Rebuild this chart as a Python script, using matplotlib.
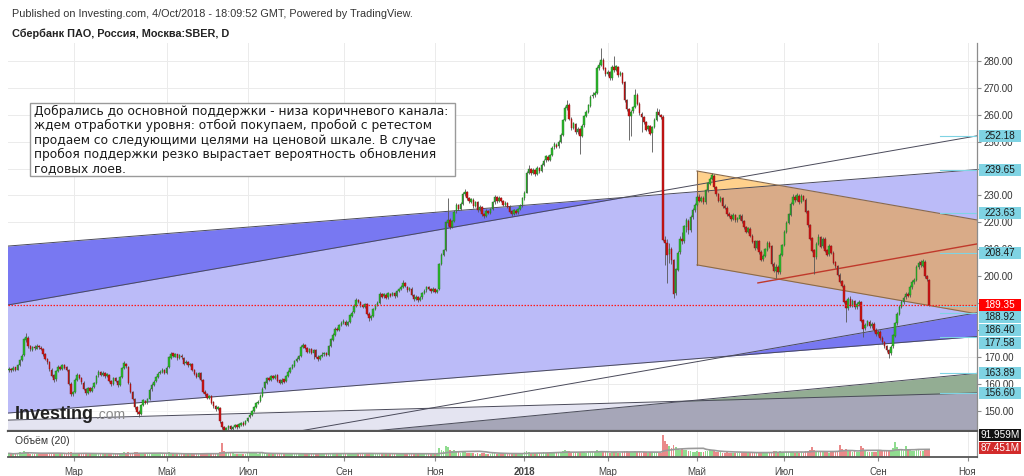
import numpy as np
import pandas as pd
import matplotlib
matplotlib.use("Agg")
import matplotlib.pyplot as plt
import matplotlib.transforms as mtransforms
from matplotlib.patches import Rectangle

# ---------------- daily candles, SBER (MOEX), bar index 0 = mid-January 2017 ----------------
opens = [
    165.0, 165.6, 165.1, 166.1, 165.3, 166.9, 169.0, 170.6, 176.3, 177.2,
    174.1, 172.7, 173.7, 173.1, 174.2, 173.4, 173.0, 171.1, 169.1, 168.1,
    165.3, 163.1, 161.6, 164.9, 166.3, 165.4, 166.9, 166.1, 165.1, 160.1,
    156.3, 156.9, 161.4, 163.3, 162.1, 160.4, 158.1, 156.6, 158.3, 157.3,
    158.7, 160.4, 163.1, 164.4, 163.3, 163.9, 162.9, 163.4, 161.1, 159.9,
    162.1, 161.1, 159.6, 162.6, 165.9, 167.5, 166.4, 160.1, 157.1, 154.4,
    151.2, 149.6, 148.9, 152.1, 153.7, 153.1, 154.3, 157.9, 159.5, 160.9,
    162.4, 163.9, 164.4, 165.3, 164.1, 166.1, 169.7, 171.3, 170.1, 170.9,
    169.6, 170.5, 169.7, 167.6, 168.1, 166.9, 167.3, 165.1, 163.7, 162.6,
    163.9, 161.4, 157.1, 156.1, 154.9, 155.4, 153.1, 151.7, 150.6, 151.1,
    145.9, 143.9, 142.9, 143.4, 144.3, 143.1, 144.1, 144.5, 143.9, 144.8,
    145.6, 144.9, 146.1, 147.5, 148.4, 149.9, 151.4, 152.9, 153.5, 155.5,
    158.3, 160.4, 162.1, 161.3, 162.9, 162.1, 163.1, 161.3, 160.3, 161.6,
    160.9, 162.9, 164.4, 165.9, 166.7, 168.6, 169.3, 170.4, 173.7, 174.5,
    173.3, 171.9, 172.9, 171.5, 172.4, 170.1, 169.3, 170.3, 170.9, 171.4,
    170.7, 174.1, 176.4, 178.3, 180.4, 180.1, 181.7, 182.7, 183.1, 182.0,
    182.9, 185.3, 186.6, 188.9, 191.1, 190.3, 189.3, 188.4, 189.5, 186.1,
    184.6, 185.3, 187.7, 189.4, 190.1, 193.4, 192.5, 193.1, 192.1, 193.5,
    192.9, 193.7, 192.6, 194.4, 195.3, 195.9, 197.3, 196.1, 194.9, 195.4,
    192.9, 191.6, 192.3, 191.1, 192.1, 193.7, 194.7, 195.9, 195.1, 194.5,
    195.2, 194.3, 195.1, 204.6, 207.9, 209.7, 219.8, 220.9, 218.3, 220.4,
    224.1, 226.4, 225.1, 226.9, 230.4, 231.3, 229.1, 227.7, 228.5, 226.1,
    227.4, 224.6, 225.7, 223.1, 222.5, 224.1, 223.6, 225.1, 227.4, 229.4,
    227.9, 229.1, 228.1, 226.6, 227.1, 225.9, 224.1, 223.1, 224.4, 223.7,
    225.1, 226.3, 228.9, 231.1, 238.4, 239.9, 238.5, 239.4, 238.1, 240.1,
    239.1, 241.4, 243.1, 244.4, 243.3, 244.9, 247.9, 248.9, 248.3, 249.9,
    252.6, 258.1, 262.4, 263.7, 258.6, 255.1, 256.7, 253.6, 254.7, 252.1,
    256.1, 259.4, 261.1, 263.4, 266.9, 267.4, 268.1, 277.4, 278.5, 280.4,
    277.3, 275.1, 275.9, 273.6, 277.7, 276.6, 277.9, 274.9, 275.5, 272.1,
    265.4, 262.1, 259.4, 261.3, 262.9, 267.4, 264.1, 260.4, 259.1, 257.3,
    254.6, 255.7, 253.1, 255.6, 258.1, 261.1, 259.9, 259.3, 213.6, 212.4,
    208.1, 210.1, 205.9, 193.6, 202.4, 208.9, 213.9, 213.1, 218.4, 220.7,
    217.1, 221.9, 224.5, 226.6, 229.4, 228.1, 229.1, 227.6, 231.9, 234.4,
    236.1, 237.4, 233.1, 230.4, 228.1, 229.1, 226.1, 225.4, 223.1, 222.4,
    221.3, 222.7, 220.9, 221.4, 222.5, 220.4, 218.3, 216.6, 217.7, 215.1,
    212.9, 210.6, 212.9, 209.1, 206.3, 207.6, 209.9, 212.4, 211.1, 204.6,
    202.1, 203.4, 201.6, 207.9, 211.6, 216.4, 219.9, 222.9, 226.9, 229.4,
    228.3, 229.9, 227.6, 229.7, 228.4, 224.1, 218.9, 214.1, 209.6, 207.1,
    212.1, 214.4, 211.1, 213.9, 209.6, 208.1, 211.1, 208.7, 205.1, 203.7,
    200.6, 198.1, 196.4, 190.6, 188.1, 191.4, 189.1, 190.7, 188.6, 189.5,
    190.4, 183.6, 180.6, 181.9, 183.1, 181.6, 182.3, 180.1, 178.6, 179.3,
    177.1, 175.4, 174.1, 172.4, 171.3, 173.9, 177.9, 182.6, 185.9, 188.6,
    190.4, 192.1, 193.4, 192.9, 195.9, 197.7, 198.6, 203.4, 205.1, 203.9,
    205.4, 200.1, 198.6,
]
highs = [
    166.2, 166.0, 166.6, 166.4, 167.2, 169.3, 171.0, 177.2, 178.9, 177.6,
    174.6, 174.0, 174.3, 174.9, 174.6, 173.9, 173.3, 171.5, 169.7, 168.4,
    165.8, 163.6, 165.2, 166.9, 166.7, 167.4, 167.3, 166.5, 165.4, 160.6,
    157.4, 162.0, 164.1, 163.7, 162.5, 160.9, 158.6, 158.9, 158.8, 159.2,
    160.8, 163.4, 165.3, 164.8, 164.6, 164.3, 163.9, 163.8, 161.5, 162.4,
    162.6, 161.5, 162.9, 166.3, 168.4, 167.9, 166.7, 160.6, 157.5, 154.8,
    151.7, 150.2, 152.6, 154.4, 154.1, 154.8, 158.3, 160.2, 161.3, 162.9,
    164.2, 165.0, 165.7, 165.6, 166.5, 170.3, 171.9, 171.6, 171.5, 171.2,
    171.0, 170.9, 170.0, 168.7, 168.5, 167.9, 167.7, 165.5, 164.2, 164.4,
    164.3, 161.8, 157.6, 156.5, 155.9, 155.8, 153.5, 152.1, 151.7, 151.5,
    146.3, 144.4, 143.9, 144.7, 144.6, 144.4, 145.0, 144.9, 145.4, 145.9,
    146.0, 146.6, 147.8, 149.0, 150.3, 151.9, 153.2, 154.0, 156.1, 158.7,
    160.9, 162.5, 162.6, 163.3, 163.4, 163.6, 163.5, 161.8, 162.0, 161.9,
    163.4, 165.0, 166.2, 167.3, 168.9, 169.9, 170.8, 174.3, 175.3, 174.9,
    173.7, 173.2, 173.4, 172.9, 172.8, 170.6, 170.8, 171.9, 171.9, 171.8,
    174.4, 177.0, 178.7, 181.0, 181.2, 182.2, 183.4, 184.0, 183.6, 183.3,
    185.9, 187.0, 189.5, 191.9, 191.6, 190.8, 189.8, 190.2, 189.9, 186.6,
    185.7, 188.2, 189.8, 190.6, 194.2, 193.9, 193.8, 193.6, 194.1, 193.9,
    194.3, 194.1, 195.0, 195.7, 196.6, 198.4, 197.8, 196.5, 196.0, 195.8,
    193.3, 192.9, 192.8, 192.5, 194.2, 195.1, 196.5, 196.3, 195.6, 195.8,
    195.6, 195.4, 205.0, 208.5, 210.2, 220.6, 229.0, 221.5, 221.0, 224.6,
    227.1, 227.0, 227.6, 231.3, 232.6, 231.8, 229.6, 229.2, 229.0, 228.1,
    227.9, 226.3, 226.2, 223.6, 224.8, 224.6, 225.5, 228.0, 230.2, 229.9,
    229.7, 229.6, 228.5, 227.8, 227.6, 226.3, 224.6, 225.0, 224.9, 225.5,
    226.7, 229.5, 231.5, 239.0, 241.5, 240.4, 240.1, 239.9, 240.8, 240.6,
    242.0, 243.6, 245.0, 245.0, 245.6, 248.4, 249.9, 249.5, 250.7, 253.1,
    258.6, 263.2, 265.5, 264.2, 259.0, 257.5, 257.1, 255.5, 255.2, 256.6,
    260.0, 261.6, 264.0, 267.3, 268.3, 268.8, 278.2, 279.5, 285.0, 281.0,
    277.8, 276.6, 276.4, 278.5, 282.0, 278.6, 278.3, 276.2, 276.0, 272.6,
    265.9, 262.6, 261.8, 263.4, 269.5, 268.0, 264.6, 261.0, 259.6, 257.8,
    256.3, 256.2, 256.0, 258.8, 262.5, 262.0, 260.4, 259.8, 215.0, 214.0,
    212.5, 211.0, 206.4, 203.2, 209.5, 215.0, 216.5, 219.0, 221.6, 221.2,
    222.6, 225.2, 227.3, 230.1, 230.4, 229.9, 229.8, 232.6, 235.1, 236.8,
    238.4, 238.0, 233.6, 231.0, 229.8, 229.6, 226.7, 226.0, 223.7, 223.0,
    223.4, 223.3, 222.1, 223.3, 223.0, 220.9, 218.8, 218.4, 218.2, 215.6,
    213.4, 213.6, 213.4, 209.6, 208.2, 210.6, 213.2, 213.0, 211.6, 205.1,
    204.4, 204.0, 208.6, 212.0, 217.0, 220.4, 223.6, 227.4, 230.5, 230.2,
    231.0, 230.5, 230.4, 230.2, 228.9, 224.6, 219.5, 214.6, 210.2, 212.6,
    215.6, 215.0, 214.6, 214.4, 210.2, 211.8, 211.7, 209.3, 205.6, 204.3,
    201.1, 198.6, 197.0, 191.2, 192.3, 192.6, 191.5, 191.3, 190.3, 191.1,
    190.9, 184.1, 182.6, 183.8, 183.7, 183.0, 182.8, 180.6, 180.0, 179.9,
    177.6, 176.0, 174.6, 173.0, 174.3, 178.6, 183.1, 186.6, 189.2, 191.1,
    192.6, 194.0, 194.0, 196.6, 198.4, 199.2, 204.1, 205.8, 206.0, 206.4,
    205.9, 200.6, 199.0,
]
lows = [
    164.3, 164.4, 164.8, 164.9, 165.0, 166.5, 168.6, 170.2, 175.6, 173.4,
    172.2, 172.3, 172.6, 172.8, 173.0, 172.4, 170.5, 168.7, 167.4, 164.9,
    162.5, 160.6, 161.2, 164.5, 165.0, 165.0, 165.6, 164.8, 159.5, 155.6,
    155.4, 156.5, 161.0, 161.6, 160.0, 157.6, 155.9, 156.2, 156.8, 156.9,
    158.3, 160.0, 162.7, 162.8, 162.9, 162.3, 162.5, 160.6, 159.2, 159.5,
    160.7, 158.9, 159.2, 162.3, 165.6, 165.9, 159.8, 156.4, 154.0, 150.8,
    148.9, 147.7, 148.4, 151.8, 152.5, 152.6, 154.0, 157.5, 159.1, 160.5,
    162.0, 163.5, 164.0, 163.5, 163.7, 165.8, 169.3, 169.8, 169.8, 169.0,
    169.2, 169.4, 167.0, 167.2, 166.3, 166.5, 164.6, 163.3, 162.0, 162.2,
    161.0, 156.6, 155.5, 154.2, 154.4, 152.5, 151.0, 150.0, 150.1, 145.5,
    143.2, 142.0, 142.3, 143.0, 142.6, 142.8, 143.6, 143.3, 143.5, 144.3,
    144.3, 144.5, 145.7, 147.1, 148.0, 149.5, 151.0, 152.4, 153.1, 155.1,
    157.9, 160.0, 160.9, 161.0, 161.7, 161.8, 160.8, 159.8, 160.0, 160.3,
    160.5, 162.5, 164.0, 165.5, 166.3, 168.1, 168.9, 170.0, 173.3, 172.8,
    171.5, 171.4, 171.2, 169.3, 169.6, 168.6, 168.9, 169.9, 170.4, 170.2,
    170.3, 173.7, 176.0, 177.9, 179.5, 179.7, 181.3, 182.2, 181.4, 181.6,
    182.5, 184.9, 186.2, 188.5, 190.0, 188.7, 188.0, 188.1, 185.5, 183.5,
    183.8, 184.9, 187.3, 188.8, 189.8, 192.0, 192.0, 191.5, 191.7, 192.3,
    192.5, 192.0, 192.2, 194.0, 194.9, 195.5, 195.8, 194.3, 194.4, 192.5,
    190.6, 191.0, 190.4, 190.6, 191.7, 193.3, 194.2, 194.8, 193.9, 194.0,
    193.8, 193.6, 195.0, 204.0, 207.4, 209.3, 218.5, 217.4, 217.8, 220.0,
    223.6, 224.6, 224.7, 226.5, 229.9, 228.5, 227.2, 227.2, 225.5, 225.7,
    224.0, 224.2, 222.5, 221.8, 222.0, 223.0, 223.1, 224.7, 227.0, 227.3,
    227.4, 227.6, 226.0, 226.1, 225.3, 223.5, 222.4, 222.6, 223.1, 223.2,
    224.6, 225.8, 228.5, 230.8, 237.9, 237.6, 237.9, 237.3, 237.6, 238.4,
    238.7, 240.9, 242.6, 242.7, 242.8, 244.5, 247.4, 247.6, 247.8, 249.4,
    252.1, 257.6, 261.8, 257.9, 254.4, 254.6, 252.9, 253.0, 245.5, 251.6,
    255.6, 259.0, 260.7, 263.0, 266.2, 266.6, 267.7, 276.5, 278.0, 276.6,
    274.3, 274.5, 272.9, 273.1, 276.0, 276.1, 274.2, 274.3, 271.4, 264.8,
    261.4, 250.6, 252.0, 260.8, 262.4, 263.5, 260.0, 253.5, 256.6, 253.9,
    254.0, 252.4, 246.0, 255.0, 257.6, 259.4, 258.6, 212.9, 204.0, 197.5,
    205.0, 204.5, 192.0, 193.0, 202.0, 208.3, 212.0, 212.5, 216.5, 215.5,
    216.5, 221.4, 223.9, 226.0, 227.4, 227.5, 226.9, 227.0, 231.4, 233.8,
    235.6, 232.5, 229.9, 227.4, 227.5, 225.4, 224.8, 222.4, 221.9, 220.6,
    220.8, 220.2, 220.3, 220.9, 219.9, 217.6, 215.9, 216.0, 214.4, 212.2,
    209.9, 210.0, 208.4, 205.6, 205.7, 207.0, 209.4, 210.4, 203.9, 201.4,
    199.3, 200.8, 201.0, 207.4, 211.1, 215.9, 219.3, 222.5, 226.4, 227.6,
    227.8, 227.0, 227.1, 228.0, 223.4, 218.4, 213.4, 208.9, 201.0, 206.5,
    211.6, 210.4, 210.5, 209.0, 207.4, 207.5, 208.2, 204.4, 203.2, 199.9,
    197.4, 195.9, 189.9, 182.8, 187.5, 188.4, 188.5, 187.9, 187.8, 189.0,
    182.9, 177.5, 180.0, 181.3, 180.9, 180.9, 179.4, 177.9, 177.6, 176.4,
    174.9, 173.4, 171.9, 169.6, 170.7, 173.3, 177.4, 182.0, 185.4, 188.0,
    189.8, 191.6, 192.2, 192.4, 195.4, 197.0, 198.1, 202.8, 203.4, 203.3,
    199.5, 198.2, 189.0,
]
closes = [
    165.5, 165.0, 166.0, 165.2, 166.8, 168.9, 170.5, 176.5, 177.4, 174.0,
    172.8, 173.6, 173.2, 174.1, 173.5, 172.9, 171.0, 169.2, 168.0, 165.4,
    163.0, 161.5, 164.8, 166.2, 165.5, 166.8, 166.0, 165.2, 160.0, 156.2,
    156.8, 161.5, 163.4, 162.0, 160.5, 158.0, 156.5, 158.4, 157.2, 158.6,
    160.3, 163.0, 164.5, 163.2, 164.0, 162.8, 163.5, 161.0, 159.8, 162.0,
    161.2, 159.5, 162.5, 165.8, 167.6, 166.5, 160.2, 157.0, 154.5, 151.3,
    149.5, 148.8, 152.0, 153.8, 153.0, 154.2, 157.8, 159.6, 160.8, 162.5,
    163.8, 164.5, 165.2, 164.0, 166.0, 169.8, 171.2, 170.2, 171.0, 169.5,
    170.6, 169.8, 167.5, 168.2, 166.8, 167.4, 165.0, 163.8, 162.5, 164.0,
    161.5, 157.0, 156.2, 154.8, 155.5, 153.0, 151.6, 150.5, 151.2, 146.0,
    143.8, 142.8, 143.5, 144.2, 143.2, 144.0, 144.6, 143.8, 144.9, 145.5,
    144.8, 146.2, 147.4, 148.5, 149.8, 151.5, 152.8, 153.4, 155.6, 158.2,
    160.5, 162.0, 161.4, 162.8, 162.2, 163.0, 161.2, 160.4, 161.5, 160.8,
    163.0, 164.5, 165.8, 166.8, 168.5, 169.4, 170.3, 173.8, 174.6, 173.2,
    172.0, 172.8, 171.6, 172.5, 170.0, 169.2, 170.4, 170.8, 171.5, 170.6,
    174.0, 176.5, 178.2, 180.5, 180.0, 181.8, 182.6, 183.2, 181.9, 182.8,
    185.4, 186.5, 189.0, 191.2, 190.4, 189.2, 188.5, 189.6, 186.0, 184.5,
    185.2, 187.8, 189.3, 190.0, 193.5, 192.4, 193.2, 192.0, 193.6, 192.8,
    193.8, 192.5, 194.5, 195.2, 196.0, 197.4, 196.2, 194.8, 195.5, 193.0,
    191.5, 192.4, 191.0, 192.0, 193.8, 194.6, 196.0, 195.2, 194.4, 195.3,
    194.2, 195.0, 204.5, 207.8, 209.6, 220.0, 221.0, 218.2, 220.5, 224.0,
    226.5, 225.0, 227.0, 230.5, 231.4, 229.0, 227.8, 228.6, 226.0, 227.5,
    224.5, 225.8, 223.0, 222.4, 224.2, 223.5, 225.0, 227.5, 229.5, 227.8,
    229.2, 228.0, 226.5, 227.2, 225.8, 224.0, 223.0, 224.5, 223.6, 225.0,
    226.2, 229.0, 231.0, 238.5, 240.0, 238.4, 239.5, 238.0, 240.2, 239.0,
    241.5, 243.0, 244.5, 243.2, 245.0, 247.8, 249.0, 248.2, 250.0, 252.5,
    258.0, 262.5, 263.8, 258.5, 255.0, 256.8, 253.5, 254.8, 252.0, 256.0,
    259.5, 261.0, 263.5, 266.8, 267.5, 268.0, 277.5, 278.4, 280.5, 277.2,
    275.0, 276.0, 273.5, 277.8, 276.5, 278.0, 274.8, 275.6, 272.0, 265.5,
    262.0, 259.5, 261.2, 262.8, 267.5, 264.0, 260.5, 259.0, 257.2, 254.5,
    255.8, 253.0, 255.5, 258.2, 261.0, 260.0, 259.2, 213.5, 212.5, 208.0,
    210.2, 206.0, 193.5, 202.5, 208.8, 214.0, 213.0, 218.5, 220.8, 217.0,
    222.0, 224.6, 226.5, 229.5, 228.0, 229.2, 227.5, 232.0, 234.5, 236.0,
    237.5, 233.0, 230.5, 228.0, 229.2, 226.0, 225.5, 223.0, 222.5, 221.2,
    222.8, 220.8, 221.5, 222.6, 220.5, 218.2, 216.5, 217.8, 215.0, 212.8,
    210.5, 213.0, 209.0, 206.2, 207.5, 210.0, 212.5, 211.0, 204.5, 202.0,
    203.5, 201.5, 208.0, 211.5, 216.5, 219.8, 223.0, 226.8, 229.5, 228.2,
    230.0, 227.5, 229.8, 228.5, 224.0, 219.0, 214.0, 209.5, 207.0, 212.0,
    214.5, 211.0, 214.0, 209.5, 208.0, 211.2, 208.8, 205.0, 203.8, 200.5,
    198.0, 196.5, 190.5, 188.0, 191.5, 189.0, 190.8, 188.5, 189.6, 190.5,
    183.5, 180.5, 182.0, 183.2, 181.5, 182.4, 180.0, 178.5, 179.4, 177.0,
    175.5, 174.0, 172.5, 171.2, 173.8, 178.0, 182.5, 186.0, 188.5, 190.5,
    192.0, 193.5, 192.8, 196.0, 197.8, 198.5, 203.5, 205.0, 204.0, 205.5,
    200.0, 198.8, 189.35,
]
volumes_m = [
    48, 42, 38, 45, 52, 60, 58, 85, 72, 55,
    44, 40, 38, 42, 36, 40, 48, 52, 46, 55,
    58, 50, 46, 40, 36, 42, 38, 40, 62, 70,
    52, 56, 44, 38, 42, 46, 50, 40, 36, 38,
    44, 52, 46, 40, 36, 34, 38, 45, 42, 40,
    38, 44, 46, 58, 62, 48, 66, 58, 55, 64,
    62, 58, 52, 44, 40, 42, 50, 48, 44, 46,
    42, 38, 36, 40, 44, 60, 54, 42, 40, 38,
    36, 34, 42, 38, 40, 36, 44, 42, 46, 40,
    48, 58, 50, 46, 42, 48, 52, 50, 46, 72,
    190, 78, 64, 56, 50, 48, 44, 46, 42, 40,
    44, 46, 48, 52, 50, 54, 48, 46, 52, 58,
    56, 48, 40, 38, 36, 40, 42, 38, 36, 34,
    38, 40, 44, 42, 46, 48, 44, 58, 52, 46,
    42, 40, 44, 38, 46, 42, 38, 36, 34, 38,
    52, 56, 48, 54, 44, 46, 50, 44, 40, 42,
    48, 46, 52, 58, 46, 42, 40, 38, 50, 48,
    44, 42, 46, 44, 56, 48, 42, 40, 44, 38,
    36, 40, 44, 42, 46, 50, 42, 44, 40, 46,
    48, 42, 40, 38, 44, 42, 46, 40, 38, 42,
    40, 44, 118, 92, 80, 150, 128, 96, 74, 88,
    76, 64, 58, 70, 62, 56, 52, 48, 50, 46,
    52, 46, 50, 48, 44, 42, 46, 48, 52, 46,
    44, 42, 46, 40, 44, 42, 46, 40, 38, 42,
    48, 58, 62, 84, 72, 58, 54, 50, 56, 52,
    58, 62, 56, 54, 60, 66, 58, 54, 62, 70,
    84, 92, 78, 80, 66, 58, 64, 60, 66, 62,
    64, 58, 62, 70, 66, 60, 88, 76, 82, 70,
    66, 60, 58, 64, 70, 62, 58, 54, 66, 78,
    80, 72, 70, 64, 76, 66, 62, 58, 60, 64,
    58, 62, 66, 60, 62, 54, 58, 290, 215, 172,
    150, 124, 165, 132, 110, 96, 104, 92, 88, 80,
    76, 72, 68, 74, 66, 62, 60, 78, 84, 90,
    82, 74, 68, 64, 60, 58, 56, 62, 58, 54,
    56, 52, 58, 54, 50, 56, 60, 54, 58, 62,
    66, 60, 68, 70, 56, 58, 62, 54, 72, 76,
    84, 70, 74, 66, 72, 68, 64, 70, 66, 58,
    62, 56, 60, 54, 78, 82, 88, 130, 96, 84,
    72, 66, 64, 70, 62, 58, 64, 76, 72, 84,
    160, 110, 96, 104, 82, 76, 70, 74, 68, 72,
    150, 120, 84, 70, 66, 72, 64, 68, 74, 80,
    86, 90, 84, 98, 86, 120, 200, 130, 96, 88,
    84, 140, 92, 86, 80, 76, 110, 96, 84, 82,
    98, 88, 87.451,
]

month_ticks = [30.5, 74.0, 112.2, 157.3, 200.0, 242.0, 281.0, 323.0, 364.0, 408.0, 450.0]
month_labels = ["Мар", "Май", "Июл", "Сен", "Ноя", "2018", "Мар", "Май", "Июл", "Сен", "Ноя"]
price_ticks = list(range(150, 290, 10))

axis_marks = [252.18, 239.65, 223.63, 208.47, 188.92, 186.40, 177.58, 163.89, 156.60]
last_price = 189.35
vol_ma_value = 91.959
last_volume = 87.451

# drawing anchors (bar index, price)
blue_upper = [(-0.5, 211.2), (454.5, 239.65)]
blue_width = 62.07
white_upper = [(-0.5, 189.3), (454.5, 252.18)]
white_width = 65.78
orange_upper = [(323.0, 239.1), (454.5, 220.9)]
orange_width = 34.9
red_trend = [(351.6, 197.5), (454.5, 212.0)]
lav_upper = [(-0.5, 146.5), (454.5, 156.60)]
green_upper = [(-0.5, 129.5), (454.5, 163.89)]

note = ("Добрались до основной поддержки - низа коричневого канала:\n"
        "ждем отработки уровня: отбой покупаем, пробой с ретестом\n"
        "продаем со следующими целями на ценовой шкале. В случае\n"
        "пробоя поддержки резко вырастает вероятность обновления\n"
        "годовых лоев.")

# ---------------- figure ----------------
W, H = 1024, 476
fig = plt.figure(figsize=(W / 100, H / 100), dpi=100)
fig.patch.set_facecolor("white")


def fx(px):
    return px / W


def fy(py):
    return 1 - py / H


XMIN, XMAX = -0.47, 454.46
YMIN, YMAX = 142.45, 286.69
PX_PER_PRICE = (431 - 43) / (YMAX - YMIN)

ax = fig.add_axes([fx(8), fy(431), fx(977) - fx(8), fy(43) - fy(431)])
axv = fig.add_axes([fx(8), fy(457), fx(977) - fx(8), fy(432) - fy(457)])

ax.set_xlim(XMIN, XMAX)
ax.set_ylim(YMIN, YMAX)
axv.set_xlim(XMIN, XMAX)
axv.set_ylim(0, 330)


def line_at(anchor, xs):
    (x0, y0), (x1, y1) = anchor
    return y0 + (y1 - y0) * (np.asarray(xs) - x0) / (x1 - x0)


xs = np.linspace(XMIN - 1, XMAX + 1, 600)

# wide blue channel, lighter where the second channel covers it
bu = line_at(blue_upper, xs)
bl = bu - blue_width
ax.fill_between(xs, bl, bu, color="#7878f2", lw=0, zorder=1)
wu = line_at(white_upper, xs)
wl = wu - white_width
ax.fill_between(xs, wl, wu, color="white", alpha=0.5, lw=0, zorder=1.1)

# lower channels
lu = line_at(lav_upper, xs)
gu = line_at(green_upper, xs)
ax.fill_between(xs, 100, lu, color="#e4e4f1", lw=0, zorder=1.2)
ax.fill_between(xs, 100, gu, color="#93ad93", lw=0, zorder=1.3)
ax.fill_between(xs, 100, np.minimum(lu, gu), color="#a6a6b8", lw=0, zorder=1.4)

# descending orange channel
xo = np.linspace(orange_upper[0][0], XMAX + 1, 200)
ou = line_at(orange_upper, xo)
ol = ou - orange_width
ax.fill_between(xo, ol, ou, color=(1.0, 0.6, 0.0), alpha=0.45, lw=0, zorder=1.5)

edge_kw = dict(color="#4a4a5a", lw=0.7, zorder=2.5)
for yv in (bu, bl, wu, wl, lu, gu):
    ax.plot(xs, yv, **edge_kw)
ax.plot(xo, ou, color="#8a6a4a", lw=0.8, zorder=2.5)
ax.plot(xo, ol, color="#8a6a4a", lw=0.8, zorder=2.5)
ax.plot([xo[0], xo[0]], [ol[0], ou[0]], color="#8a6a4a", lw=0.8, zorder=2.5)
xr = np.array([red_trend[0][0], XMAX + 1])
ax.plot(xr, line_at(red_trend, xr), color="#c0392b", lw=1.0, zorder=2.6)

# grid
for t in month_ticks:
    ax.axvline(t, color="#ebebeb", lw=0.7, zorder=0.5)
    axv.axvline(t, color="#ebebeb", lw=0.7, zorder=0.5)
for p in price_ticks:
    ax.axhline(p, color="#ebebeb", lw=0.7, zorder=0.5)

# candles
o = np.array(opens); h = np.array(highs); l = np.array(lows); c = np.array(closes)
idx = np.arange(len(c))
up = c >= o
ax.vlines(idx, l, h, color="#555555", lw=0.6, zorder=3)
body = np.where(np.abs(c - o) < 0.25, 0.25, c - o)
ax.bar(idx[up], body[up], bottom=o[up], width=0.72, color="#2db92d",
       edgecolor="#1e7a1e", lw=0.3, zorder=3.1)
ax.bar(idx[~up], body[~up], bottom=o[~up], width=0.72, color="#cc1515",
       edgecolor="#8a1010", lw=0.3, zorder=3.1)

# last price dotted line
ax.axhline(last_price, color="#ff1a1a", lw=0.9, ls=(0, (1.2, 1.2)), zorder=4)

# short price-level guides near the scale
for v in axis_marks:
    ax.plot([437, XMAX + 1], [v, v], color="#7fd3e3", lw=0.8, zorder=2.7)

# axes styling
for a in (ax, axv):
    a.set_facecolor("white")
    a.spines["top"].set_visible(False)
    a.spines["left"].set_visible(False)
    a.spines["right"].set_color("#8c8c8c")
    a.spines["right"].set_linewidth(0.9)
ax.spines["bottom"].set_color("#555555")
ax.spines["bottom"].set_linewidth(1.6)
axv.spines["bottom"].set_color("#555555")
axv.spines["bottom"].set_linewidth(1.3)

ax.yaxis.tick_right()
ax.set_yticks(price_ticks)
ax.set_yticklabels([f"{p:.2f}" for p in price_ticks])
ax.tick_params(axis="y", labelsize=7, colors="#8c8c8c", labelcolor="#333333",
               length=3, pad=2, width=0.8)
ax.set_xticks([])
axv.set_yticks([])
axv.set_xticks(month_ticks)
axv.set_xticklabels(month_labels)
axv.tick_params(axis="x", labelsize=7, colors="#8c8c8c", labelcolor="#444444",
                length=3, pad=4, width=0.8)
for tl in axv.get_xticklabels():
    if tl.get_text() == "2018":
        tl.set_fontweight("bold")
for tl in ax.get_yticklabels() + axv.get_xticklabels():
    tl.set_fontfamily("Liberation Sans")

# volume
vol = np.array(volumes_m, dtype=float)
axv.bar(idx[up], vol[up], width=0.8, color="#8fdc8f", lw=0, zorder=2)
axv.bar(idx[~up], vol[~up], width=0.8, color="#ea8a8a", lw=0, zorder=2)
ma = pd.Series(vol).rolling(20, min_periods=1).mean()
axv.plot(idx, ma, color="#9a9a9a", lw=1.2, zorder=3)

# price-scale labels, stacked downwards so that they never overlap
tr = mtransforms.blended_transform_factory(fig.transFigure, ax.transData)
box_h = 12 / PX_PER_PRICE
min_gap = 12.6 / PX_PER_PRICE
scale_labels = [(v, "#7fd3e3", "#1a1a1a", 10) for v in axis_marks]
scale_labels.append((last_price, "#ff0000", "white", 12))
scale_labels.sort(key=lambda t: -t[0])
prev = None
for v, face, txt, z in scale_labels:
    pos = v if prev is None else min(v, prev - min_gap)
    prev = pos
    ax.add_patch(Rectangle((fx(979), pos - box_h / 2), fx(1021) - fx(979), box_h,
                           transform=tr, facecolor=face, edgecolor="none",
                           clip_on=False, zorder=z))
    ax.text(fx(1000), pos, f"{v:.2f}", transform=tr, ha="center", va="center",
            fontsize=7.2, color=txt, family="Liberation Sans", zorder=z + 1,
            clip_on=False)

for text, yc, col in ((f"{vol_ma_value:.3f}M", 435, "#111111"),
                      (f"{last_volume:.3f}M", 448, "#d22b2b")):
    fig.add_artist(Rectangle((fx(979), fy(yc + 6)), fx(1021) - fx(979), 12 / H,
                             transform=fig.transFigure, facecolor=col,
                             edgecolor="none", zorder=10))
    fig.text(fx(1000), fy(yc), text, ha="center", va="center", fontsize=7.2,
             color="white", family="Liberation Sans", zorder=11)

# header
fig.text(fx(12), fy(14), "Published on Investing.com, 4/Oct/2018 - 18:09:52 GMT, Powered by TradingView.",
         fontsize=7.8, color="#333333", family="Liberation Sans", va="center")
fig.text(fx(12), fy(34), "Сбербанк ПАО, Россия, Москва:SBER, D",
         fontsize=7.8, color="#222222", family="Liberation Sans", weight="bold", va="center")

# note box
fig.add_artist(Rectangle((fx(30), fy(176)), fx(455) - fx(30), 73 / H,
                         transform=fig.transFigure, facecolor="white",
                         edgecolor="#9a9a9a", lw=1.0, zorder=20))
fig.text(fx(34), fy(105), note, fontsize=8.8, color="#1a1a1a", va="top", ha="left",
         linespacing=1.12, family="DejaVu Sans", zorder=21)

# volume title and logo
fig.text(fx(15), fy(441), "Объём (20)", fontsize=7.5, color="#333333",
         family="Liberation Sans", va="center", zorder=21)
fig.text(fx(15), fy(419), "Investing", fontsize=13, weight="bold", color="#222222",
         family="Liberation Sans", va="baseline", zorder=21)
fig.text(fx(96), fy(419), ".com", fontsize=10, color="#8a8a8a",
         family="Liberation Sans", va="baseline", zorder=21)

fig.savefig("out.png", dpi=100, facecolor="white")
